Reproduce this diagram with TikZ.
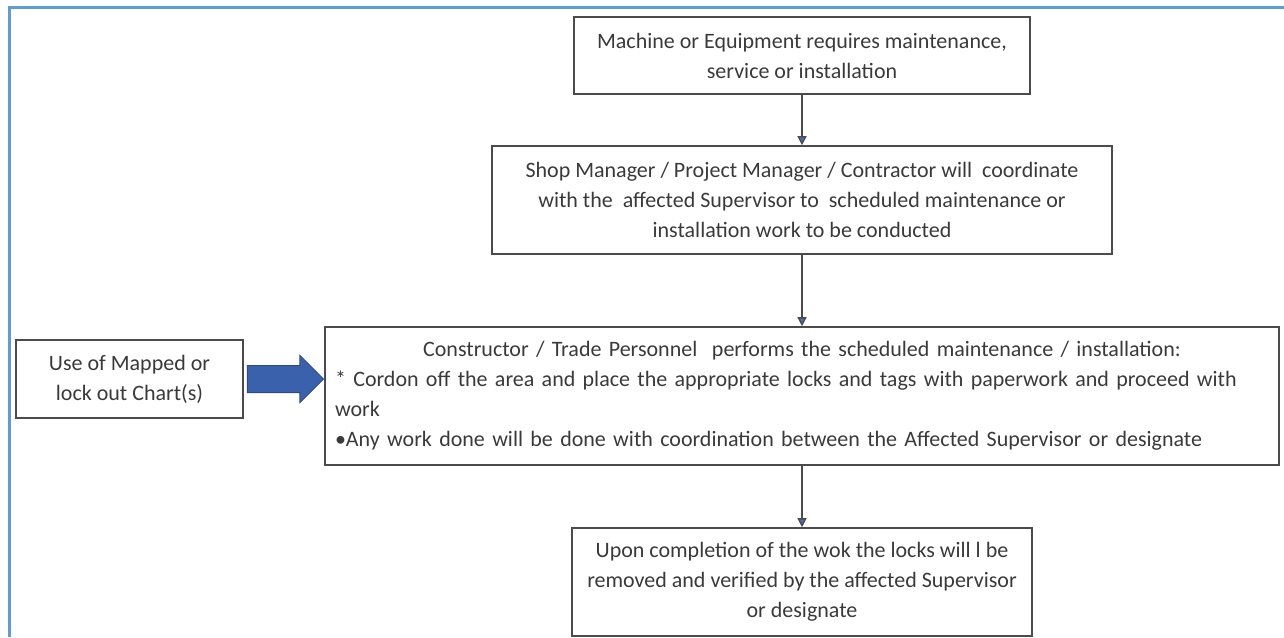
\documentclass[tikz,border=0pt]{standalone}
\usepackage{fontspec}
\setmainfont{Carlito}
\usetikzlibrary{arrows.meta}
\usetikzlibrary{shapes.arrows}
\usetikzlibrary{positioning}

\definecolor{frameblue}{RGB}{95,155,215}
\definecolor{boxline}{RGB}{75,75,75}
\definecolor{txtgrey}{RGB}{58,58,58}
\definecolor{tipblue}{RGB}{72,112,182}
\definecolor{arrowedge}{RGB}{58,98,172}
\definecolor{arrowmid}{RGB}{78,134,210}
\definecolor{arrowline}{RGB}{45,75,135}

\begin{document}
\begin{tikzpicture}[x=1pt,y=-1pt,
    stepbox/.style={draw=boxline,line width=1.6pt,text=txtgrey,align=center,inner sep=0pt,
      font=\fontsize{22}{30}\selectfont},
    link/.style={draw=boxline,line width=1.3pt,-{Triangle[length=9pt,width=9pt,fill=tipblue]}}]
    \useasboundingbox (0,0) rectangle (1284,637);
    % Frame
    \draw [frameblue,line width=3pt] (1284,7) -- (9.5,7) -- (9.5,637);
    % Place nodes
    \node [stepbox,minimum width=456pt,minimum height=77pt] (need) at (802,55.5)
      {Machine or Equipment requires maintenance,\\service or installation};
    \node [stepbox,minimum width=620pt,minimum height=108pt] (plan) at (802,200)
      {Shop Manager / Project Manager / Contractor will\ \ coordinate\\with the\ \ affected Supervisor to\ \ scheduled maintenance or\\installation work to be conducted};
    \node [stepbox,minimum width=954pt,minimum height=138pt,text width=934pt,align=left] (work) at (802,396)
      {\centerline{Constructor / Trade Personnel\ \ performs the scheduled maintenance / installation:}
       \ * Cordon off the area and place the appropriate locks and tags with paperwork and proceed with\\
       work\\
       •Any work done will be done with coordination between the Affected Supervisor or designate};
    \node [stepbox,minimum width=460pt,minimum height=108pt] (done) at (802,582)
      {Upon completion of the wok the locks will l be\\removed and verified by the affected Supervisor\\or designate};
    \node [stepbox,minimum width=227pt,minimum height=78pt] (chart) at (129.5,379)
      {Use of Mapped or\\lock out Chart(s)};
    \node [single arrow,draw=arrowline,top color=arrowedge,middle color=arrowmid,bottom color=arrowedge,
      line width=1pt,inner sep=0pt,inner ysep=13pt,single arrow head extend=10pt,
      minimum height=76pt,anchor=tip] (feed) at (chart.east -| work.west) {};

    \draw [link] (need) -- (plan);
    \draw [link] (plan) -- (work);
    \draw [link] (work) -- (done);
\end{tikzpicture}
\end{document}
